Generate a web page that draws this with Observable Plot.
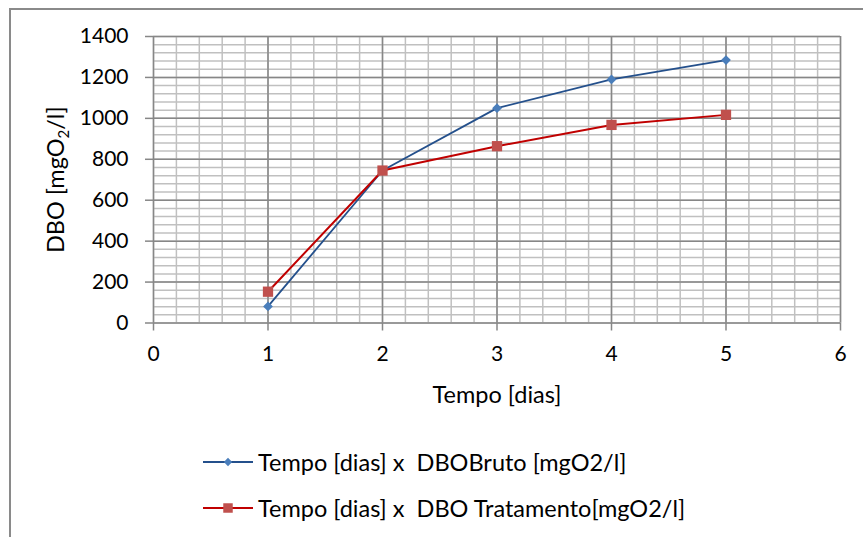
<!DOCTYPE html>
<html>
<head>
<meta charset="utf-8">
<script src="https://cdn.jsdelivr.net/npm/d3@7"></script>
<script src="https://cdn.jsdelivr.net/npm/@observablehq/plot@0.6"></script>
<style>
  html, body { margin: 0; padding: 0; background: #fff; overflow: hidden; width: 863px; height: 537px; }
  #frame { position: absolute; left: 9px; top: 8px; width: 900px; height: 600px; border: 2px solid #8a8a8a; box-sizing: border-box; }
  #chart { position: absolute; left: 0; top: 0; }
  .leg { position: absolute; left: 203px; height: 30px; display: flex; align-items: center; font-family: Lato, sans-serif; font-size: 23.5px; color: #000; white-space: pre; }
  .leg svg { margin-right: 5px; }
</style>
</head>
<body>
<div id="frame"></div>
<div id="chart"></div>
<div id="legend"></div>
<script>
const days = [1, 2, 3, 4, 5];
const dboBruto = [81, 745, 1050, 1190, 1285];
const dboTratamento = [153, 745, 864, 968, 1017];
const seriesNames = ["Tempo [dias] x  DBOBruto [mgO2/l]", "Tempo [dias] x  DBO Tratamento[mgO2/l]"];
const xTicks = [0, 1, 2, 3, 4, 5, 6];
const yTicks = [0, 200, 400, 600, 800, 1000, 1200, 1400];
const xTitle = "Tempo [dias]";
const yTitle = "DBO [mgO2/l]";

const blueLine = "#24508c", blueMark = "#4a7ebb";
const redLine = "#c00000", redMark = "#c0504d";

const bruto = days.map((d, i) => ({day: d, v: dboBruto[i]}));
const trat = days.map((d, i) => ({day: d, v: dboTratamento[i]}));
const xMinor = d3.range(0, 6.0001, 0.2);
const yMinor = d3.range(0, 1400.001, 40);

const chart = Plot.plot({
  width: 863,
  height: 420,
  marginLeft: 153,
  marginRight: 23,
  marginTop: 36,
  marginBottom: 97.5,
  x: {domain: [0, 6]},
  y: {domain: [0, 1400]},
  style: {fontFamily: "Lato, sans-serif", fontSize: "21px", color: "#000", background: "transparent"},
  marks: [
    Plot.ruleX(xMinor, {stroke: "#c0c0c0", strokeWidth: 1.5}),
    Plot.ruleY(yMinor, {stroke: "#c0c0c0", strokeWidth: 1.5}),
    Plot.ruleX(xTicks, {stroke: "#878787", strokeWidth: 1.5}),
    Plot.ruleY(yTicks, {stroke: "#878787", strokeWidth: 1.5}),
    Plot.axisX({ticks: xTicks, tickFormat: "d", tickSize: 8, tickPadding: 15, label: null, stroke: "#878787", strokeWidth: 1.5, fill: "#000"}),
    Plot.axisY({ticks: yTicks, tickFormat: "d", tickSize: 8, tickPadding: 17, label: null, stroke: "#878787", strokeWidth: 1.5, fill: "#000"}),
    Plot.line(bruto, {x: "day", y: "v", stroke: blueLine, strokeWidth: 1.8}),
    Plot.line(trat, {x: "day", y: "v", stroke: redLine, strokeWidth: 2}),
    Plot.dot(bruto, {x: "day", y: "v", symbol: "diamond2", r: 4.4, fill: blueMark, stroke: "none"}),
    Plot.dot(trat, {x: "day", y: "v", symbol: "square", r: 5.8, fill: redMark, stroke: "none"}),
    Plot.text([xTitle], {frameAnchor: "bottom", lineAnchor: "middle", textAnchor: "middle", dy: 72.5, fill: "#000", fontSize: 23.5}),
    Plot.text([yTitle], {frameAnchor: "left", lineAnchor: "middle", textAnchor: "middle", dx: -97, rotate: -90, fill: "#000", fontSize: 23.5})
  ]
});
document.getElementById("chart").appendChild(chart);

d3.select(chart).selectAll("text").filter(function() { return this.textContent === yTitle; })
  .html('DBO [mgO<tspan dy="5" font-size="15">2</tspan><tspan dy="-5">/l]</tspan>');

const legendItems = [
  {name: seriesNames[0], line: blueLine, mark: blueMark, symbol: d3.symbolDiamond2, size: 44, top: 447},
  {name: seriesNames[1], line: redLine, mark: redMark, symbol: d3.symbolSquare, size: 90, top: 493}
];
const legend = d3.select("#legend");
for (const it of legendItems) {
  const row = legend.append("div").attr("class", "leg").style("top", it.top + "px");
  const s = row.append("svg").attr("width", 50).attr("height", 30);
  s.append("line").attr("x1", 0).attr("x2", 50).attr("y1", 15).attr("y2", 15).attr("stroke", it.line).attr("stroke-width", 2);
  s.append("path").attr("transform", "translate(25,15)").attr("d", d3.symbol(it.symbol, it.size)()).attr("fill", it.mark);
  row.append("span").text(it.name);
}
</script>
</body>
</html>
